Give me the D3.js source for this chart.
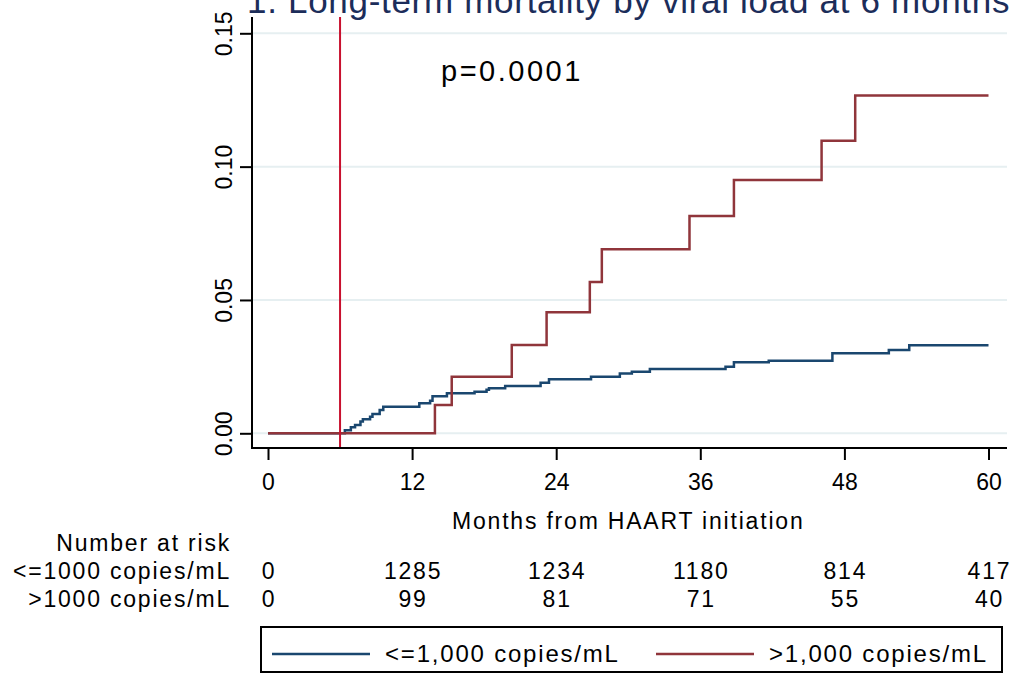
<!DOCTYPE html>
<meta charset="utf-8">
<style>
body { margin: 0; background: #fff; }
text { font-family: "Liberation Sans", Arial, sans-serif; fill: #000; }
</style>
<svg width="1015" height="675"></svg>
<script src="https://d3js.org/d3.v7.min.js"></script>
<script>

// values
var title = "1. Long-term mortality by viral load at 6 months";
var xLabel = "Months from HAART initiation";
var xTicks = [0, 12, 24, 36, 48, 60];
var yTicks = [0, 0.05, 0.10, 0.15];
var landmark = 6;
var pLabel = "p=0.0001";

// <=1000 copies/mL : cumulative mortality steps
var lowMonths = [0, 6.4, 6.9, 7.25, 7.7, 7.9, 8.5, 8.7, 9.3, 9.6, 12.6, 13.5, 13.7, 14.9, 17.2, 18.2, 18.4,
                 19.75, 22.7, 23.4, 26.9, 29.3, 30.3, 31.8, 38.1, 38.8, 41.7, 47.0, 51.7, 53.4, 60];
var lowMort   = [0, 0.0011, 0.0023, 0.0031, 0.0044, 0.0053, 0.0062, 0.0072, 0.0087, 0.0100, 0.0113, 0.0122, 0.0139, 0.0150, 0.0156, 0.0163, 0.0169,
                 0.0177, 0.0190, 0.0203, 0.0212, 0.0224, 0.0231, 0.0241, 0.0250, 0.0266, 0.0272, 0.0300, 0.0312, 0.0330, 0.0330];

// >1000 copies/mL
var highMonths = [0, 13.9, 15.3, 20.3, 23.2, 26.8, 27.8, 35.1, 38.8, 46.1, 48.9, 60];
var highMort   = [0, 0.0106, 0.0212, 0.0331, 0.0454, 0.0567, 0.069, 0.0815, 0.095, 0.1097, 0.1267, 0.1267];

// number at risk
var riskTitle = "Number at risk";
var riskGroups = ["<=1000 copies/mL", ">1000 copies/mL"];
var riskLow = [0, 1285, 1234, 1180, 814, 417];
var riskHigh = [0, 99, 81, 71, 55, 40];

var legendLabels = ["<=1,000 copies/mL", ">1,000 copies/mL"];
var colors = ["#1a476f", "#90353b"];

var svg = d3.select("svg");
var frame = {left: 252, right: 1007, top: 17, bottom: 448};

var x = d3.scaleLinear().domain([0, 60]).range([268, 988.5]);
var y = d3.scaleLinear().domain([0, 0.15]).range([433.3, 33.3]);

// title (cut off at the top like the original)
svg.append("text")
  .attr("x", 247).attr("y", 13)
  .style("font-size", "35px")
  .style("letter-spacing", "0.7px")
  .style("fill", "#1c2d5a")
  .text(title);

// grid
svg.append("g").selectAll("line")
  .data(yTicks)
  .enter().append("line")
  .attr("x1", frame.left).attr("x2", frame.right)
  .attr("y1", function(d) { return y(d); })
  .attr("y2", function(d) { return y(d); })
  .attr("stroke", "#e6eff1")
  .attr("stroke-width", 2);

// curves
var line = d3.line()
  .curve(d3.curveStepAfter)
  .x(function(d) { return x(d[0]); })
  .y(function(d) { return y(d[1]); });

var series = [d3.zip(lowMonths, lowMort), d3.zip(highMonths, highMort)];
series.forEach(function(s, i) {
  svg.append("path")
    .datum(s)
    .attr("fill", "none")
    .attr("stroke", colors[i])
    .attr("stroke-width", 2.5)
    .attr("d", line);
});

// 6 month landmark
svg.append("line")
  .attr("x1", x(landmark)).attr("x2", x(landmark))
  .attr("y1", frame.top).attr("y2", frame.bottom)
  .attr("stroke", "#c8102e")
  .attr("stroke-width", 2);

// axes
var yAxis = svg.append("g")
  .attr("transform", "translate(" + frame.left + ",0)")
  .call(d3.axisLeft(y).tickValues(yTicks).tickFormat(d3.format(".2f")).tickSize(12));
yAxis.select(".domain").remove();
yAxis.selectAll("line").attr("stroke", "#000").attr("stroke-width", 2);
yAxis.selectAll("text")
  .attr("transform", "rotate(-90)")
  .attr("x", 0).attr("y", -20).attr("dy", 0)
  .attr("text-anchor", "middle")
  .style("font-size", "23px")
  .style("font-family", "'Liberation Sans', Arial, sans-serif");

var xAxis = svg.append("g")
  .attr("transform", "translate(0," + frame.bottom + ")")
  .call(d3.axisBottom(x).tickValues(xTicks).tickSize(12).tickPadding(14));
xAxis.select(".domain").remove();
xAxis.selectAll("line").attr("stroke", "#000").attr("stroke-width", 2);
xAxis.selectAll("text")
  .style("font-size", "23px")
  .style("font-family", "'Liberation Sans', Arial, sans-serif");

svg.append("line")
  .attr("x1", frame.left).attr("x2", frame.left)
  .attr("y1", frame.top).attr("y2", frame.bottom + 1)
  .attr("stroke", "#000").attr("stroke-width", 2);
svg.append("line")
  .attr("x1", frame.left - 1).attr("x2", frame.right)
  .attr("y1", frame.bottom).attr("y2", frame.bottom)
  .attr("stroke", "#000").attr("stroke-width", 2);

svg.append("text")
  .attr("x", 441).attr("y", 81)
  .style("font-size", "29px")
  .style("letter-spacing", "2.5px")
  .text(pLabel);

svg.append("text")
  .attr("x", (x(0) + x(60)) / 2).attr("y", 529)
  .attr("text-anchor", "middle")
  .style("font-size", "23px")
  .style("letter-spacing", "1.8px")
  .text(xLabel);

// risk table
var riskRows = [riskLow, riskHigh];
var rowY = [579, 607];
svg.append("text")
  .attr("x", 231).attr("y", 551)
  .attr("text-anchor", "end")
  .style("font-size", "23px")
  .style("letter-spacing", "1.8px")
  .text(riskTitle);

riskRows.forEach(function(row, i) {
  svg.append("text")
    .attr("x", 231).attr("y", rowY[i])
    .attr("text-anchor", "end")
    .style("font-size", "23px")
    .style("letter-spacing", "1.8px")
    .text(riskGroups[i]);
  svg.append("g").selectAll("text")
    .data(row)
    .enter().append("text")
    .attr("x", function(d, j) { return x(xTicks[j]) + 1; })
    .attr("y", rowY[i])
    .attr("text-anchor", "middle")
    .style("font-size", "23px")
    .style("letter-spacing", "1.8px")
    .text(function(d) { return d; });
});

// legend
svg.append("rect")
  .attr("x", 261).attr("y", 627)
  .attr("width", 741).attr("height", 45)
  .attr("fill", "none")
  .attr("stroke", "#000")
  .attr("stroke-width", 2);

var keyX = [272, 656];
legendLabels.forEach(function(lab, i) {
  svg.append("line")
    .attr("x1", keyX[i]).attr("x2", keyX[i] + 98)
    .attr("y1", 654).attr("y2", 654)
    .attr("stroke", colors[i])
    .attr("stroke-width", 2.5);
  svg.append("text")
    .attr("x", keyX[i] + 113).attr("y", 662)
    .style("font-size", "24px")
    .style("letter-spacing", "1.8px")
    .text(lab);
});

</script>
